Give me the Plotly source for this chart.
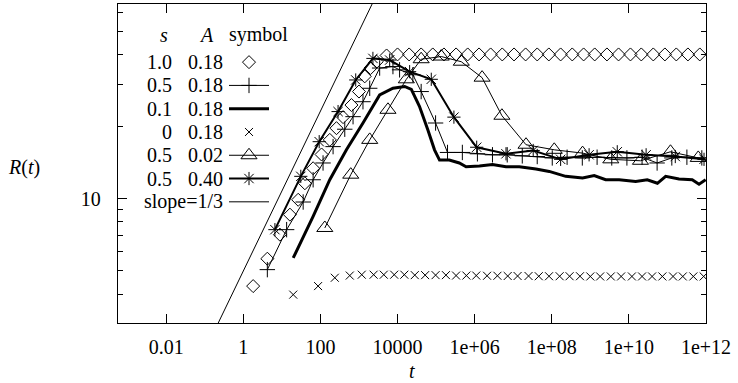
import plotly.graph_objects as go

# ---------------- data ----------------
t_s10 = [1.8, 4.2, 8.9, 16.2, 26.5, 39.5, 64.7, 107, 175, 261, 387, 638, 1000, 1410,
         2000, 2880, 5200, 1.0e4, 2.0e4, 4.1e4, 8.2e4, 1.6e5, 3.3e5, 6.6e5, 1.3e6, 2.6e6,
         5.2e6, 1.05e7, 2.1e7, 4.2e7, 8.4e7, 1.7e8, 3.4e8, 6.7e8, 1.3e9, 2.7e9, 5.4e9,
         1.1e10, 2.1e10, 4.3e10, 8.6e10, 1.7e11, 3.4e11, 6.9e11]
R_s10 = [4.32, 5.62, 7.08, 8.58, 9.9, 11.6, 13.4, 15.3, 17.6, 19.7, 21.9, 24.6, 28.0, 32.4,
         35.1, 37.3, 39.6, 40.0, 40.0, 40.0, 40.0, 40.0, 40.0, 40.0, 40.0, 40.0,
         40.0, 40.0, 40.0, 40.0, 40.0, 40.0, 40.0, 40.0, 40.0, 40.0, 40.0,
         40.0, 40.0, 40.0, 40.0, 40.0, 40.0, 40.0]

t_s05 = [4.2, 13.3, 35.7, 64.7, 117, 213, 428, 702, 1270, 1900, 3440, 7600, 1.13e4, 2.5e4,
         4.1e4, 9.7e4, 1.98e5, 4.8e5, 1.18e6, 2.9e6, 7.0e6, 1.72e7, 4.2e7, 1.03e8, 2.5e8,
         6.2e8, 1.5e9, 3.6e9, 8.9e9, 2.2e10, 5.4e10, 1.3e11, 3.2e11, 7.8e11]
R_s05 = [5.06, 7.43, 9.69, 12.0, 14.1, 16.5, 19.5, 22.0, 25.4, 28.9, 35.1, 35.6, 34.5, 32.9,
         28.0, 20.7, 15.6, 15.6, 15.4, 15.25, 15.25, 15.1, 15.0, 14.8, 14.9,
         14.8, 14.9, 14.8, 14.8, 14.9, 14.1, 14.8, 14.9, 14.8]

t_s01 = [19.7, 64.7, 175, 473, 1270, 1900, 3440, 7600, 1.53e4, 2.28e4, 3.7e4, 6.1e4, 9.1e4,
         1.23e5, 2.2e5, 4.0e5, 6.0e5, 1.33e6, 2.9e6, 6.5e6, 1.44e7, 3.9e7, 8.6e7, 2.3e8,
         6.3e8, 1.26e9, 2.5e9, 5.6e9, 1.5e10, 3.0e10, 5.5e10, 9.0e10, 2.0e11, 4.4e11,
         6.6e11, 9.8e11]
R_s01 = [5.66, 8.44, 12.0, 16.0, 20.7, 23.1, 27.1, 28.9, 29.4, 28.6, 24.3, 19.4, 16.0,
         14.5, 14.5, 14.1, 13.6, 13.7, 13.9, 13.6, 13.6, 13.3, 13.0, 12.4,
         12.2, 12.5, 12.0, 12.0, 11.8, 12.0, 11.6, 12.4, 12.1, 12.0,
         11.5, 12.0]

t_s0 = [19.7, 87, 236, 577, 1180, 2.4e3, 4.4e3, 8.2e3, 1.5e4, 2.8e4, 5.2e4, 9.7e4, 1.8e5,
        3.3e5, 6.1e5, 1.1e6, 2.1e6, 3.9e6, 7.2e6, 1.3e7, 2.5e7, 4.6e7, 8.5e7, 1.6e8,
        2.9e8, 5.4e8, 1.0e9, 1.8e9, 3.4e9, 6.3e9, 1.2e10, 2.2e10, 4.0e10, 7.4e10,
        1.4e11, 2.5e11, 4.7e11, 8.7e11]
R_s0 = [3.98, 4.32, 4.68, 4.78, 4.82, 4.82, 4.82, 4.82, 4.82, 4.8, 4.8, 4.8, 4.8,
        4.78, 4.78, 4.78, 4.77, 4.77, 4.76, 4.76, 4.76, 4.75, 4.75, 4.75,
        4.75, 4.75, 4.74, 4.74, 4.74, 4.74, 4.74, 4.74, 4.74, 4.74,
        4.74, 4.74, 4.74, 4.74]

t_a002 = [130, 612, 1900, 5650, 1.69e4, 4.1e4, 1.36e5, 4.5e5, 1.56e6, 5.1e6, 2.15e7,
          1.16e8, 6.3e8, 3.4e9, 2.0e10, 1.2e11, 6.3e11]
R_a002 = [7.55, 12.6, 17.6, 23.5, 31.5, 38.2, 39.2, 37.3, 32.0, 22.2, 16.8,
          16.0, 15.5, 14.6, 14.4, 15.7, 14.8]

t_a040 = [6.6, 31, 93, 287, 824, 2300, 6250, 2.06e4, 7.5e4, 2.9e5, 1.13e6, 6.5e6, 3.3e7,
          1.7e8, 9.3e8, 5.0e9, 2.8e10, 1.6e11, 8.9e11]
R_a040 = [7.43, 12.4, 17.3, 23.1, 31.3, 38.5, 37.9, 33.9, 31.5, 21.9, 16.4, 15.4, 15.9,
          14.6, 15.25, 15.7, 15.25, 15.0, 14.6]

t_slope = [0.2, 3000]
R_slope = [2.92, 72.1]

x_tickvals = [0.01, 1, 100, 1e4, 1e6, 1e8, 1e10, 1e12]
x_ticktext = ["0.01", "1", "100", "10000", "1e+06", "1e+08", "1e+10", "1e+12"]
y_tickvals = [10]
y_ticktext = ["10"]
y_minorvals = [4, 5, 6, 7, 8, 9, 20, 30, 40, 50, 60]

legend_s = ["1.0", "0.5", "0.1", "0", "0.5", "0.5"]
legend_A = ["0.18", "0.18", "0.18", "0.18", "0.02", "0.40"]

# ---------------- figure ----------------
FONT = "Liberation Serif"
W, H = 738, 383
L, R, T, B = 118, 32, 4, 60
PW, PH = W - L - R, H - T - B

def px(x):
    return (x - L) / PW

def py(y):
    return (H - B - y) / PH

fig = go.Figure()
blank = " "
fig.add_trace(go.Scatter(x=t_s10, y=R_s10, mode="markers", name=blank,
                         marker=dict(symbol="diamond-open", size=10, color="black",
                                     line=dict(width=1, color="black"))))
fig.add_trace(go.Scatter(x=t_s05, y=R_s05, mode="lines+markers", name=blank,
                         line=dict(color="black", width=1),
                         marker=dict(symbol="cross-thin-open", size=11, color="black",
                                     line=dict(width=1, color="black"))))
fig.add_trace(go.Scatter(x=t_s01, y=R_s01, mode="lines", name=blank,
                         line=dict(color="black", width=3)))
fig.add_trace(go.Scatter(x=t_s0, y=R_s0, mode="markers", name=blank,
                         marker=dict(symbol="x-thin-open", size=8, color="black",
                                     line=dict(width=1, color="black"))))
fig.add_trace(go.Scatter(x=t_a002, y=R_a002, mode="lines+markers", name=blank,
                         line=dict(color="black", width=1),
                         marker=dict(symbol="triangle-up-open", size=14, color="black",
                                     line=dict(width=1, color="black"))))
fig.add_trace(go.Scatter(x=t_a040, y=R_a040, mode="lines+markers", name=blank,
                         line=dict(color="black", width=2),
                         marker=dict(symbol="asterisk-open", size=11, color="black",
                                     line=dict(width=1, color="black"))))
fig.add_trace(go.Scatter(x=t_slope, y=R_slope, mode="lines", name=blank,
                         line=dict(color="black", width=1)))

axis_common = dict(showline=True, linecolor="black", linewidth=1.3, mirror="allticks",
                   ticks="inside", tickcolor="black", tickwidth=1, showgrid=False,
                   zeroline=False, automargin=False,
                   tickfont=dict(family=FONT, size=20, color="black"))

fig.update_xaxes(type="log", range=[-3.25, 12.0005], tickmode="array",
                 tickvals=x_tickvals, ticktext=x_ticktext, ticklen=9, tickangle=0,
                 ticklabelstandoff=6, **axis_common)
fig.update_yaxes(type="log", range=[0.4815, 1.8125], tickmode="array",
                 tickvals=y_tickvals, ticktext=y_ticktext, ticklen=9,
                 ticklabelstandoff=12,
                 minor=dict(tickmode="array", tickvals=y_minorvals, ticks="inside",
                            ticklen=5, tickcolor="black", tickwidth=1, showgrid=False),
                 **axis_common)

ann = []
tf = dict(family=FONT, size=20, color="black")

def label(text, x, y, xanchor="center"):
    ann.append(dict(text=text, x=px(x), y=py(y), xref="paper", yref="paper",
                    xanchor=xanchor, yanchor="middle", showarrow=False, font=tf))

# axis titles
label("<i>R</i>(<i>t</i>)", 24, 167)
label("<i>t</i>", 412, 371)
# legend header
label("<i>s</i>", 164, 35)
label("<i>A</i>", 206, 35)
label("symbol", 227, 35, "left")
row_y = [62, 85.3, 108.6, 131.9, 155.2, 178.5, 201.8]
for i, (s, a) in enumerate(zip(legend_s, legend_A)):
    label(s, 174, row_y[i], "right")
    label(a, 225, row_y[i], "right")
label("slope=1/3", 225, row_y[6], "right")

fig.update_layout(
    width=W, height=H,
    margin=dict(l=L, r=R, t=T, b=B, autoexpand=False),
    paper_bgcolor="white", plot_bgcolor="white",
    annotations=ann,
    showlegend=True,
    legend=dict(x=px(224), y=py(45.5),
                xanchor="left", yanchor="top", bgcolor="rgba(0,0,0,0)",
                font=dict(family=FONT, size=15.6, color="black"),
                itemwidth=40, tracegroupgap=0),
)

fig.write_html("out.html", config={"displayModeBar": False},
               post_script="document.body.style.margin='0';")
